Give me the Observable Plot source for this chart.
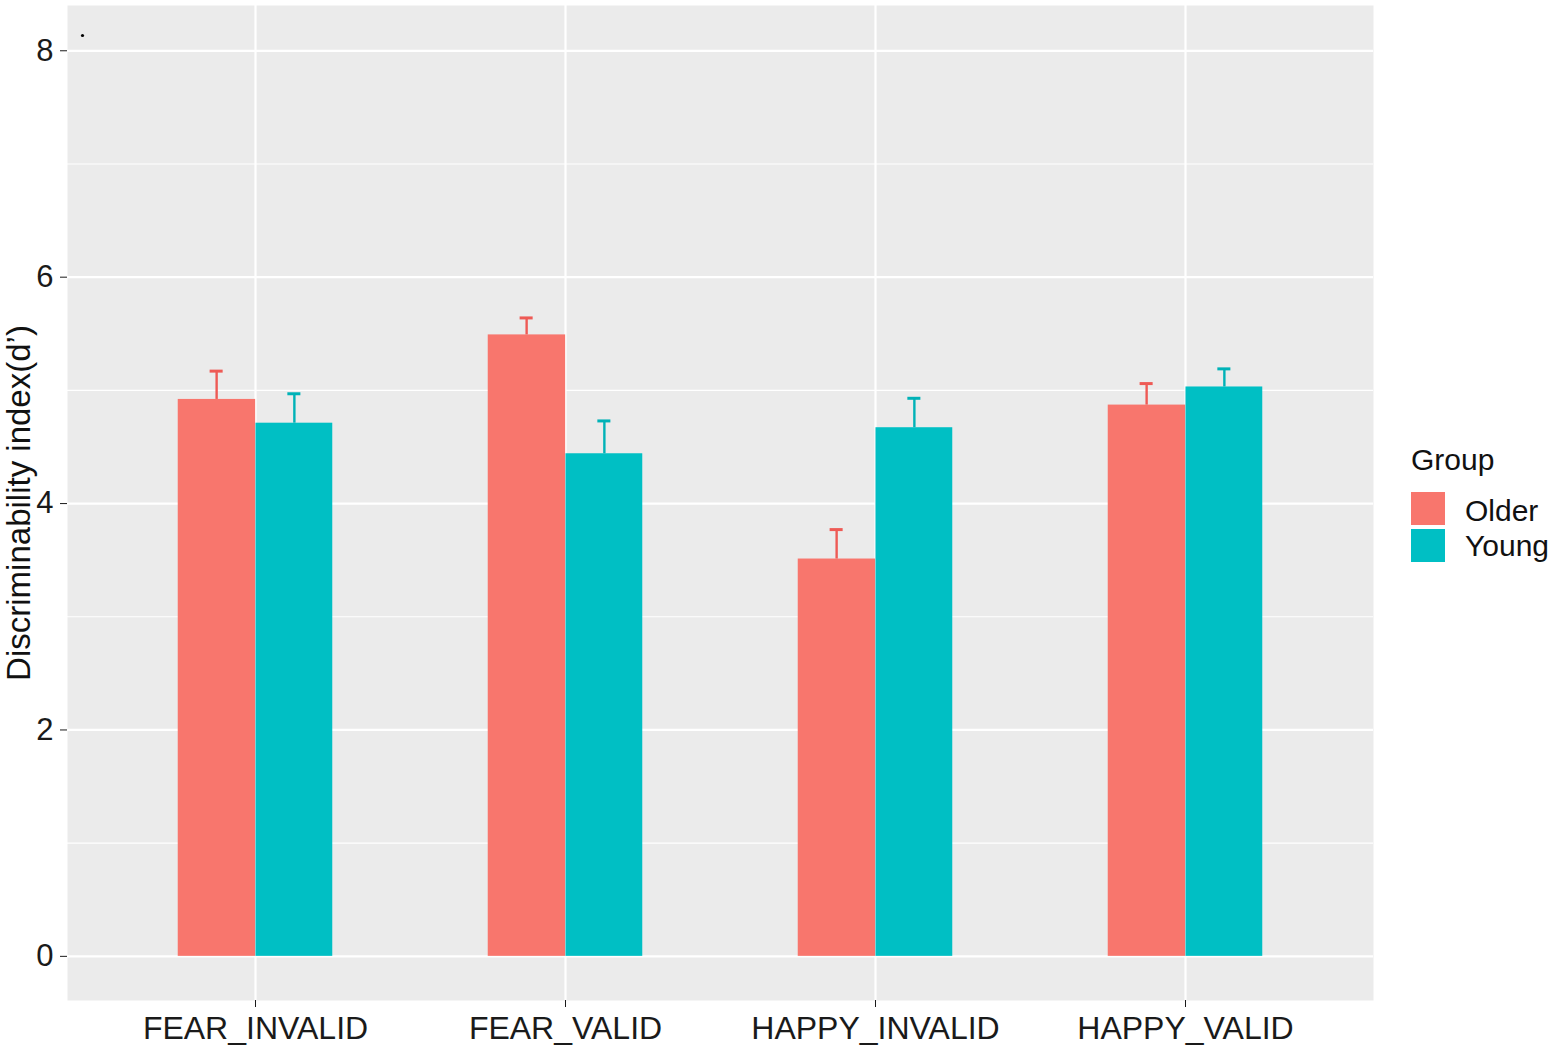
<!DOCTYPE html>
<html>
<head>
<meta charset="utf-8">
<script src="https://cdn.jsdelivr.net/npm/d3@7"></script>
<script src="https://cdn.jsdelivr.net/npm/@observablehq/plot@0.6"></script>
<style>
  html, body { margin: 0; padding: 0; background: #ffffff; }
  #wrap { position: relative; width: 1559px; height: 1052px; font-family: "Liberation Sans", Arial, sans-serif; }
  #chart svg { display: block; }
  .lg { position: absolute; color: #111; line-height: 30px; font-size: 30px; white-space: nowrap; }
  .key { position: absolute; width: 34px; height: 33px; }
</style>
</head>
<body>
<div id="wrap">
  <div id="chart"></div>
  <div class="lg" style="left:1411px; top:445px;">Group</div>
  <div class="key" style="left:1411px; top:492px; background:#F8766D;"></div>
  <div class="key" style="left:1411px; top:529px; background:#00BFC4;"></div>
  <div class="lg" style="left:1465px; top:496px;">Older</div>
  <div class="lg" style="left:1465px; top:531px;">Young</div>
</div>
<script>
const conditions = ["FEAR_INVALID", "FEAR_VALID", "HAPPY_INVALID", "HAPPY_VALID"];
const groups = ["Older", "Young"];
const groupColors = ["#F8766D", "#00BFC4"];
const errorColors = ["#EE5A55", "#00B2B7"];
const olderMean = [4.92, 5.49, 3.51, 4.87];
const olderSE   = [0.25, 0.15, 0.26, 0.19];
const youngMean = [4.71, 4.44, 4.67, 5.03];
const youngSE   = [0.26, 0.29, 0.26, 0.16];
const majorTicks = [0, 2, 4, 6, 8];
const minorTicks = [1, 3, 5, 7];
const yTitle = "Discriminability index(d’)";

const rows = [];
conditions.forEach((c, i) => {
  rows.push({cond: c, group: "Older", mean: olderMean[i], se: olderSE[i]});
  rows.push({cond: c, group: "Young", mean: youngMean[i], se: youngSE[i]});
});
const older = rows.filter(d => d.group === "Older");
const young = rows.filter(d => d.group === "Young");

const W = 1559, H = 1052;
const mL = 67, mR = 186, mT = 5, mB = 52;
const panelW = W - mL - mR;
const step = panelW / (conditions.length + 0.2);
const barW = step / 4;
const capHalf = 7;

const font = "'Liberation Sans', Arial, sans-serif";

const chart = Plot.plot({
  width: W,
  height: H,
  marginLeft: mL,
  marginRight: mR,
  marginTop: mT,
  marginBottom: mB,
  style: {fontFamily: font, background: "#ffffff"},
  x: {type: "band", domain: conditions, paddingInner: 0, paddingOuter: 0.1, label: null},
  y: {domain: [-0.39, 8.4], label: null},
  color: {domain: groups, range: groupColors},
  marks: [
    Plot.frame({fill: "#EBEBEB", stroke: "none"}),
    Plot.gridY(minorTicks, {stroke: "#ffffff", strokeOpacity: 1, strokeWidth: 1.2}),
    Plot.gridY(majorTicks, {stroke: "#ffffff", strokeOpacity: 1, strokeWidth: 2.2}),
    Plot.gridX({stroke: "#ffffff", strokeOpacity: 1, strokeWidth: 2.2}),
    Plot.barY(older, {x: "cond", y: "mean", fill: "group", insetLeft: step / 4, insetRight: step / 2 - 0.6}),
    Plot.barY(young, {x: "cond", y: "mean", fill: "group", insetLeft: step / 2, insetRight: step / 4}),
    Plot.ruleX(older, {x: "cond", y1: "mean", y2: d => d.mean + d.se, stroke: errorColors[0], strokeWidth: 2.4, dx: -barW / 2}),
    Plot.ruleX(young, {x: "cond", y1: "mean", y2: d => d.mean + d.se, stroke: errorColors[1], strokeWidth: 2.4, dx: barW / 2}),
    Plot.tickY(older, {x: "cond", y: d => d.mean + d.se, stroke: errorColors[0], strokeWidth: 3,
      insetLeft: step * 3 / 8 - capHalf, insetRight: step * 5 / 8 - capHalf}),
    Plot.tickY(young, {x: "cond", y: d => d.mean + d.se, stroke: errorColors[1], strokeWidth: 3,
      insetLeft: step * 5 / 8 - capHalf, insetRight: step * 3 / 8 - capHalf}),
    Plot.dot([0], {frameAnchor: "top-left", dx: 15, dy: 30, r: 1.6, fill: "#000000", stroke: "none"}),
    Plot.axisY(majorTicks, {tickSize: 7, tickPadding: 7, fontSize: 31, color: "#1a1a1a", label: null, tickFormat: d => String(d)}),
    Plot.axisX({tickSize: 7, tickPadding: 9, fontSize: 32, color: "#1a1a1a", label: null}),
    Plot.text([yTitle], {text: d => d, frameAnchor: "left", textAnchor: "middle", rotate: -90, dx: -48, fontSize: 33, fill: "#111111"})
  ]
});
document.getElementById("chart").appendChild(chart);
</script>
</body>
</html>
